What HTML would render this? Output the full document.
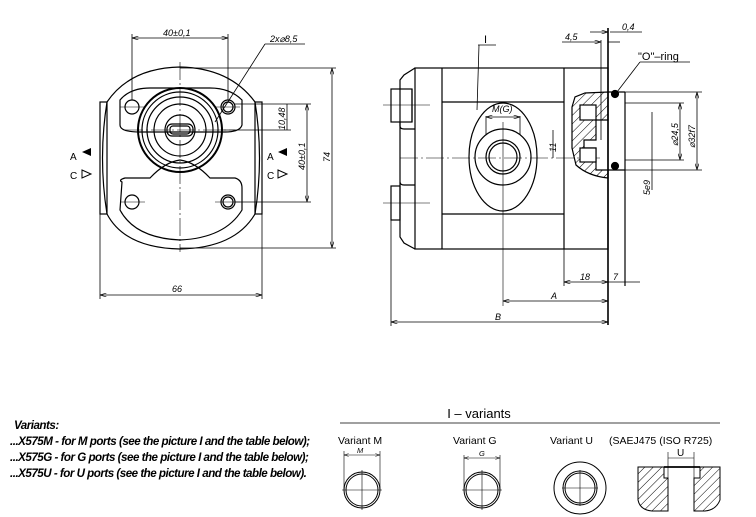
<!DOCTYPE html>
<html><head><meta charset="utf-8"><style>
html,body{margin:0;padding:0;background:#fff;}
svg{display:block}
text{font-family:"Liberation Sans",sans-serif;fill:#000}
.it{font-style:italic}
</style></head><body>
<svg width="756" height="517" viewBox="0 0 756 517" xmlns="http://www.w3.org/2000/svg">
<defs>
<pattern id="h" width="6" height="6" patternUnits="userSpaceOnUse" patternTransform="rotate(45)"><line x1="0" y1="0" x2="0" y2="6" stroke="#000" stroke-width="1"/></pattern>
<marker id="a" viewBox="0 0 10 6" refX="10" refY="3" markerWidth="8" markerHeight="5" orient="auto-start-reverse"><path d="M0,0 L10,3 L0,6" fill="none" stroke="#000"/></marker>
</defs>
<g fill="none" stroke="#000" stroke-width="1.2">
<!-- FRONT VIEW -->
<rect x="100" y="102" width="7" height="112"/>
<rect x="255" y="102" width="7" height="112"/>
<path d="M107,102 Q130,68 180,67 Q230,68 255,102"/>
<path d="M107,214 Q125,248 180,249 Q235,248 255,214"/>
<path d="M107,102 Q98,158 107,214 M255,102 Q264,158 255,214"/>
<path d="M120,100 Q130,88 150,88 L210,88 Q230,88 242,100 L242,125 Q240,132 225,132 L140,132 Q120,132 120,125 Z"/>
<path d="M122,182 Q118,180 125,178 L150,178 Q165,162 180,160 Q195,162 210,178 L235,178 Q242,180 242,188 L242,210 Q225,238 180,240 Q135,238 120,210 Z"/>
<circle cx="132" cy="107" r="7"/><circle cx="228" cy="107" r="7"/><circle cx="228" cy="107" r="5"/>
<circle cx="132" cy="202" r="7"/><circle cx="228" cy="202" r="7"/><circle cx="228" cy="202" r="5"/>
<circle cx="180" cy="130" r="42" stroke-width="2"/><circle cx="180" cy="130" r="38"/><circle cx="180" cy="130" r="33"/><circle cx="180" cy="130" r="26"/><circle cx="180" cy="130" r="15"/>
<rect x="167" y="124" width="26" height="12" rx="5"/>
<rect x="170" y="126" width="20" height="8" rx="3"/>
<line x1="180" y1="62" x2="180" y2="252" stroke-width="0.6" stroke-dasharray="18,3,2,3"/>
<line x1="125" y1="130" x2="235" y2="130" stroke-width="0.6" stroke-dasharray="18,3,2,3"/>
<line x1="120" y1="107" x2="145" y2="107" stroke-width="0.6"/><line x1="215" y1="107" x2="240" y2="107" stroke-width="0.6"/>
<line x1="120" y1="202" x2="145" y2="202" stroke-width="0.6"/><line x1="215" y1="202" x2="240" y2="202" stroke-width="0.6"/>
<g stroke-width="0.8">
<line x1="132" y1="100" x2="132" y2="34"/><line x1="228" y1="100" x2="228" y2="34"/>
<line x1="132" y1="38" x2="228" y2="38" marker-start="url(#a)" marker-end="url(#a)"/>
<line x1="100" y1="214" x2="100" y2="299"/><line x1="262" y1="214" x2="262" y2="299"/>
<line x1="100" y1="295" x2="262" y2="295" marker-start="url(#a)" marker-end="url(#a)"/>
<line x1="180" y1="68" x2="336" y2="68"/><line x1="180" y1="248" x2="336" y2="248"/>
<line x1="332" y1="68" x2="332" y2="248" marker-start="url(#a)" marker-end="url(#a)"/>
<line x1="235" y1="104" x2="311" y2="104"/><line x1="235" y1="202" x2="311" y2="202"/>
<line x1="307" y1="104" x2="307" y2="202" marker-start="url(#a)" marker-end="url(#a)"/>
<line x1="222" y1="130" x2="291" y2="130"/>
<line x1="287" y1="104" x2="287" y2="130"/>
<line x1="215" y1="122" x2="265" y2="44"/><line x1="265" y1="44" x2="305" y2="44"/>
</g>
<!-- SIDE VIEW -->
<rect x="415" y="68" width="193" height="181"/>
<line x1="442" y1="68" x2="442" y2="249"/><line x1="564" y1="68" x2="564" y2="249"/>
<line x1="442" y1="102" x2="564" y2="102"/><line x1="442" y1="214" x2="564" y2="214"/>
<path d="M415,68 L404,75 L400,80 L400,237 L404,243 L415,249"/>
<rect x="391" y="89" width="21" height="33"/><line x1="412" y1="89" x2="412" y2="122"/>
<path d="M400,122 L400,126 Q400,129 404,129 L415,129 M400,182 Q400,185 404,185 L415,185"/>
<rect x="391" y="186" width="9" height="34"/>
<g stroke-width="0.6">
<line x1="383" y1="105" x2="430" y2="105"/><line x1="383" y1="203" x2="430" y2="203"/>
<line x1="400" y1="158" x2="600" y2="158" stroke-dasharray="18,3,2,3"/>
<line x1="503" y1="122" x2="503" y2="306"/>
</g>
<ellipse cx="503" cy="157" rx="34" ry="54"/>
<circle cx="503" cy="157" r="28"/><circle cx="503" cy="157" r="17"/><circle cx="503" cy="157" r="14"/>
<!-- flange section -->
<path d="M572,107 L575,97 L585,93 L608,92 L608,120 L596,120 L596,140 L584,140 L584,148 L596,148 L596,170 L608,170 L608,178 Q588,176 576,165 L572,148 L572,122 Z" fill="url(#h)"/>
<rect x="580" y="105" width="16" height="15" fill="#fff"/><rect x="580" y="148" width="16" height="14" fill="#fff"/>
<line x1="608" y1="28" x2="608" y2="325" stroke-width="1.6"/>
<line x1="601" y1="40" x2="601" y2="140" stroke-width="0.8"/>
<line x1="625" y1="92" x2="625" y2="286"/>
<line x1="608" y1="92" x2="625" y2="92"/><line x1="608" y1="170" x2="625" y2="170"/>
<circle cx="615" cy="94" r="3.5" fill="#000"/><circle cx="615" cy="166" r="3.5" fill="#000"/>
<g stroke-width="0.8">
<line x1="625" y1="92" x2="702" y2="92"/><line x1="625" y1="170" x2="702" y2="170"/>
<line x1="697" y1="92" x2="697" y2="170" marker-start="url(#a)" marker-end="url(#a)"/>
<line x1="625" y1="103" x2="684" y2="103"/><line x1="625" y1="160" x2="684" y2="160"/>
<line x1="680" y1="103" x2="680" y2="160" marker-start="url(#a)" marker-end="url(#a)"/>
<line x1="652" y1="112" x2="652" y2="190"/>
<line x1="553" y1="130" x2="553" y2="158"/>
<line x1="564" y1="249" x2="564" y2="286"/>
<line x1="564" y1="282" x2="608" y2="282" marker-start="url(#a)" marker-end="url(#a)"/>
<line x1="608" y1="282" x2="640" y2="282"/>
<line x1="503" y1="301" x2="608" y2="301" marker-start="url(#a)" marker-end="url(#a)"/>
<line x1="391" y1="220" x2="391" y2="326"/>
<line x1="391" y1="322" x2="608" y2="322" marker-start="url(#a)" marker-end="url(#a)"/>
<line x1="562" y1="42" x2="601" y2="42" marker-end="url(#a)"/><line x1="608" y1="42" x2="620" y2="42"/>
<line x1="590" y1="32" x2="608" y2="32" marker-end="url(#a)"/><line x1="610" y1="32" x2="642" y2="32"/>
<line x1="478" y1="45" x2="496" y2="45"/><line x1="479" y1="45" x2="477" y2="110"/>
<line x1="617" y1="92" x2="640" y2="62"/><line x1="640" y1="62" x2="690" y2="62"/>
<line x1="486" y1="116" x2="486" y2="135"/><line x1="520" y1="116" x2="520" y2="135"/>
<line x1="486" y1="117" x2="520" y2="117" marker-start="url(#a)" marker-end="url(#a)"/>
</g>
<!-- BOTTOM variants -->
<line x1="340" y1="423" x2="720" y2="423" stroke-width="0.8"/>
<g stroke-width="1">
<circle cx="362" cy="490" r="18"/><circle cx="362" cy="490" r="16"/>
<line x1="344" y1="451" x2="344" y2="490" stroke-width="0.6"/><line x1="380" y1="451" x2="380" y2="490" stroke-width="0.6"/>
<line x1="344" y1="455" x2="380" y2="455" stroke-width="0.6" marker-start="url(#a)" marker-end="url(#a)"/>
<circle cx="482" cy="490" r="18"/><circle cx="482" cy="490" r="16"/>
<line x1="464" y1="455" x2="464" y2="490" stroke-width="0.6"/><line x1="500" y1="455" x2="500" y2="490" stroke-width="0.6"/>
<line x1="464" y1="458" x2="500" y2="458" stroke-width="0.6" marker-start="url(#a)" marker-end="url(#a)"/>
<circle cx="580" cy="488" r="26"/><circle cx="580" cy="488" r="17"/><circle cx="580" cy="488" r="15"/>
<path d="M638,467 L664,467 L664,478 L668,478 L668,511 L652,511 Q640,510 638,500 Z" fill="url(#h)"/>
<path d="M700,467 L720,467 L720,500 Q716,510 705,511 L694,511 L694,478 L700,478 Z" fill="url(#h)"/>
<line x1="664" y1="467" x2="700" y2="467" stroke-width="1.8"/>
<line x1="668" y1="452" x2="668" y2="478" stroke-width="0.6"/><line x1="694" y1="452" x2="694" y2="478" stroke-width="0.6"/>
<line x1="668" y1="458" x2="694" y2="458" stroke-width="0.6"/>
</g>
<g stroke-width="0.6">
<line x1="362" y1="470" x2="362" y2="510"/><line x1="342" y1="490" x2="382" y2="490"/>
<line x1="482" y1="470" x2="482" y2="510"/><line x1="462" y1="490" x2="502" y2="490"/>
<line x1="580" y1="470" x2="580" y2="506"/><line x1="562" y1="488" x2="598" y2="488"/>
</g>
</g>
<!-- arrows A/C -->
<path d="M82,152 L91,148 L91,156 Z"/><path d="M82,170 L91,174 L82,178 Z" fill="none" stroke="#000"/>
<path d="M278,152 L287,148 L287,156 Z"/><path d="M278,170 L287,174 L278,178 Z" fill="none" stroke="#000"/>
<g font-size="10">
<text x="70" y="160">A</text><text x="70" y="179">C</text>
<text x="267" y="160">A</text><text x="267" y="179">C</text>
</g>
<g class="it" font-size="9">
<text x="163" y="36">40±0,1</text>
<text x="270" y="42">2x⌀8,5</text>
<text x="172" y="292">66</text>
<text transform="translate(330,162) rotate(-90)">74</text>
<text transform="translate(305,170) rotate(-90)">40±0,1</text>
<text transform="translate(285,130) rotate(-90)">10,48</text>
<text x="492" y="112">M(G)</text>
<text transform="translate(556,152) rotate(-90)">11</text>
<text x="565" y="40">4,5</text>
<text x="622" y="30">0,4</text>
<text x="580" y="280">18</text>
<text x="613" y="280">7</text>
<text x="551" y="299">A</text>
<text x="495" y="320">B</text>
<text transform="translate(678,146) rotate(-90)">⌀24,5</text>
<text transform="translate(695,148) rotate(-90)">⌀32f7</text>
<text transform="translate(650,195) rotate(-90)">5e9</text>
</g>
<text x="484" y="43" font-size="11">I</text>
<text x="638" y="60" font-size="11">"O"–ring</text>
<text x="479" y="418" font-size="13" text-anchor="middle">I  –  variants</text>
<g font-size="10.5">
<text x="338" y="444">Variant M</text>
<text x="453" y="444">Variant G</text>
<text x="550" y="444">Variant U</text>
<text x="609" y="444">(SAEJ475 (ISO R725)</text>
</g>
<g class="it" font-size="7.5"><text x="357" y="453">M</text><text x="479" y="456">G</text></g>
<text x="677" y="456" font-size="10">U</text>
<g class="it" font-size="11.6" font-weight="bold" letter-spacing="-0.5">
<text x="14" y="429">Variants:</text>
<text x="10" y="445">...X575M  - for M ports (see the picture I and the table below);</text>
<text x="10" y="461">...X575G  - for G ports (see the picture I and the table below);</text>
<text x="10" y="477">...X575U  - for U ports (see the picture I and the table below).</text>
</g>
</svg>
</body></html>
